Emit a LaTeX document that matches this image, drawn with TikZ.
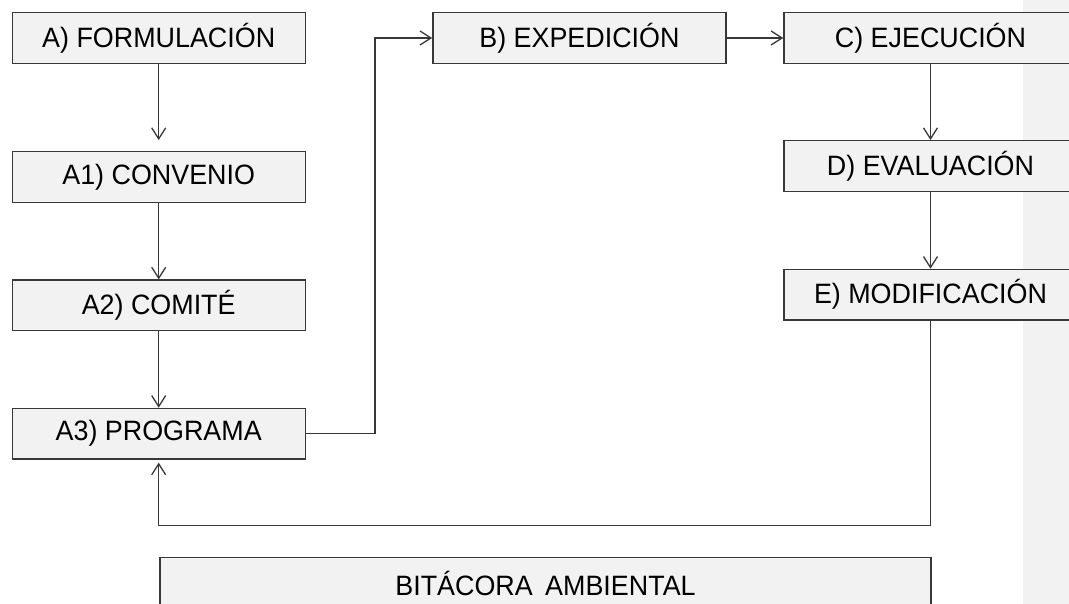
\documentclass[tikz,border=0pt]{standalone}
\usepackage{fontspec}
\setmainfont[FakeStretch=0.96]{Liberation Sans}
\usetikzlibrary{arrows.meta}
\definecolor{boxfill}{HTML}{F2F2F2}
\definecolor{linec}{HTML}{383838}
\definecolor{strip}{HTML}{F2F2F2}
\begin{document}
\begin{tikzpicture}[x=1pt,y=-1pt,
  box/.style={draw=linec, fill=boxfill, line width=1.4pt, rectangle,
    minimum width=293pt, minimum height=50.5pt, inner sep=0pt,
    font=\fontsize{28}{33}\selectfont, text=black},
  conn/.style={draw=linec, line width=1.3pt,
    -{Straight Barb[length=11pt,width=14pt,line width=1.3pt]}}]
\useasboundingbox (0,0) rectangle (1069,604);
\clip (0,0) rectangle (1069,604);
\fill[strip] (1023,0) rectangle (1069,604);
\node[box] (A)  at (158.7,38)   {A) FORMULACIÓN};
\node[box] (A1) at (158.7,177)  {A1) CONVENIO};
\node[box] (A2) at (158.7,305.4){A2) COMITÉ};
\node[box] (A3) at (158.7,433.7){A3) PROGRAMA};
\node[box] (B)  at (579.4,38)   {B) EXPEDICIÓN};
\node[box] (C)  at (930.5,38)   {C) EJECUCIÓN};
\node[box] (D)  at (930.5,166)  {D) EVALUACIÓN};
\node[box] (E)  at (930.5,294.7){E) MODIFICACIÓN};
\node[box, minimum width=771pt] (BIT) at (545.5,583) {BITÁCORA\hspace{5pt} AMBIENTAL};
\coordinate (k1) at (375,38);
\coordinate (k2) at (930.5,525.7);
\draw[conn, shorten >=11pt] (A) -- (A1);
\draw[conn] (A1) -- (A2);
\draw[conn] (A2) -- (A3);
\draw[conn] (A3.east) -| (k1) -- (B.west);
\draw[conn] (B) -- (C);
\draw[conn] (C) -- (D);
\draw[conn] (D) -- (E);
\draw[conn, shorten >=3pt] (E.south) -- (k2) -| (A3.south);
\end{tikzpicture}
\end{document}
